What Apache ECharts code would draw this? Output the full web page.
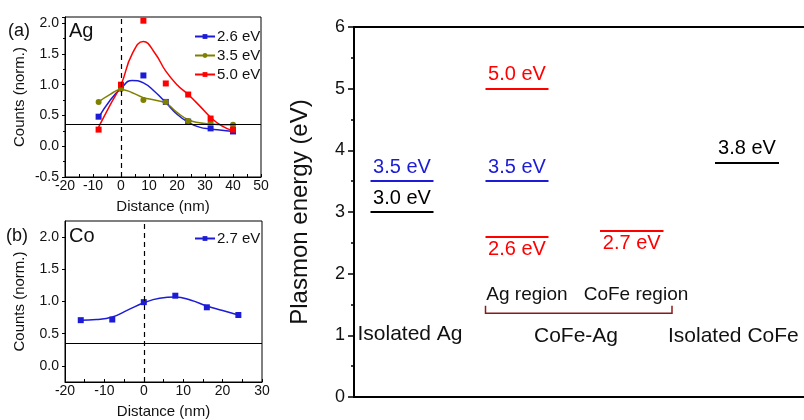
<!DOCTYPE html>
<html><head><meta charset="utf-8">
<script src="https://cdn.jsdelivr.net/npm/echarts@6/dist/echarts.min.js"></script>
<style>html,body{margin:0;padding:0;background:#fff}#c{width:804px;height:420px}</style>
</head><body><div id="c"></div>
<script>
// ---------- Data: panel (a) Ag ----------
const distA = [-8, 0, 8, 16, 24, 32, 40];
const ag26 = [0.48, 0.97, 1.15, 0.72, 0.40, 0.29, 0.24];
const ag35 = [0.72, 0.93, 0.75, 0.72, 0.41, 0.38, 0.35];
const ag50 = [0.27, 1.00, 2.04, 1.02, 0.84, 0.45, 0.27];
const fitDistA = [-8, -4, 0, 4, 8, 12, 16, 20, 24, 28, 32, 36, 40];
const fit26 = [0.47, 0.74, 0.94, 1.07, 1.03, 0.89, 0.71, 0.52, 0.39, 0.31, 0.28, 0.26, 0.24];
const fit35 = [0.72, 0.84, 0.92, 0.87, 0.79, 0.75, 0.70, 0.55, 0.43, 0.38, 0.36, 0.35, 0.35];
const fit50 = [0.31, 0.66, 1.00, 1.50, 1.70, 1.52, 1.22, 1.00, 0.84, 0.66, 0.47, 0.33, 0.25];
const baseA = 0.35;
// ---------- Data: panel (b) Co ----------
const distB = [-16, -8, 0, 8, 16, 24];
const co27 = [0.71, 0.72, 0.99, 1.09, 0.91, 0.79];
const fitDistB = [-16, -12, -8, -4, 0, 4, 8, 12, 16, 20, 24];
const fit27 = [0.71, 0.72, 0.76, 0.87, 0.98, 1.05, 1.07, 1.02, 0.93, 0.86, 0.79];
const baseB = 0.35;
const countTicksB = [0, 0.5, 1.0, 1.5, 2.0];
// ---------- Data: plasmon energy levels ----------
const levelLabels = ['3.0 eV', '3.5 eV', '5.0 eV', '3.5 eV', '2.6 eV', '2.7 eV', '3.8 eV'];
const levelEnergy = [3.0, 3.5, 5.0, 3.5, 2.6, 2.7, 3.8];
const levelGroup = [0, 0, 1, 1, 1, 2, 3];
const groupNames = ['Isolated Ag', 'Ag region', 'CoFe region', 'Isolated CoFe'];
const sampleNames = ['Isolated Ag', 'CoFe-Ag', 'Isolated CoFe'];
const energyTicks = [0, 1, 2, 3, 4, 5, 6];

// ---------- Layout / style (not data) ----------
const FONT = 'Liberation Sans, Arial, sans-serif';
const BLUE = '#1c1cd6', OLIVE = '#808000', RED = '#ff0000';
const levelColor = ['#000', BLUE, RED, BLUE, RED, RED, '#000'];
const levelLabelBelow = [false, false, false, false, true, true, false];
const groupSpan = [[0.33, 1.59], [2.63, 3.89], [4.92, 6.19], [7.22, 8.50]];
const groupLabelPos = [null, [3.46, 1.66], [5.64, 1.66], null];
const sampleLabelPos = [[1.12, 1.02, 'center'], [4.44, 0.99, 'center'], [6.28, 0.99, 'left']];
const bracket = { x0: 2.63, x1: 6.36, y: 1.36, h: 0.12 };

const pairs = (xs, ys) => xs.map((x, i) => [x, ys[i]]);

const chart = echarts.init(document.getElementById('c'), null, { renderer: 'canvas' });

function smallX(idx, min, max) {
  return {
    gridIndex: idx, type: 'value', min: min, max: max, interval: 10,
    name: 'Distance (nm)', nameLocation: 'middle', nameGap: 22,
    nameTextStyle: { fontFamily: FONT, fontSize: 15, color: '#111' },
    axisLine: { onZero: false, lineStyle: { color: '#000', width: 1 } },
    axisTick: { inside: true, length: 3, lineStyle: { color: '#000' } },
    minorTick: { show: true, splitNumber: 2, length: 3, lineStyle: { color: '#000' } },
    axisLabel: { fontFamily: FONT, fontSize: 14, color: '#111', margin: 2 },
    splitLine: { show: false }
  };
}
function smallY(idx, min, max) {
  return {
    gridIndex: idx, type: 'value', min: min, max: max, interval: 0.5,
    name: 'Counts (norm.)', nameLocation: 'middle', nameGap: 38,
    nameTextStyle: { fontFamily: FONT, fontSize: 15, color: '#111' },
    axisLine: { onZero: false, lineStyle: { color: '#000', width: 1 } },
    axisTick: { length: 3, lineStyle: { color: '#000' } },
    minorTick: { show: true, splitNumber: 2, length: 2, lineStyle: { color: '#000' } },
    axisLabel: { fontFamily: FONT, fontSize: 14, color: '#111', margin: 6,
      formatter: v => (Math.abs(v * 2 - Math.round(v * 2)) < 1e-6 ? v.toFixed(1) : '') },
    splitLine: { show: false }
  };
}

function fitSeries(name, xs, ys, color, symbol, gi) {
  return {
    name: name, type: 'line', xAxisIndex: gi, yAxisIndex: gi,
    data: pairs(xs, ys), smooth: 0.5, showSymbol: false, symbol: symbol, symbolSize: 6,
    lineStyle: { color: color, width: 1.5 }, itemStyle: { color: color }, z: 3, silent: true
  };
}
function pointSeries(xs, ys, color, symbol, gi) {
  return {
    type: 'scatter', xAxisIndex: gi, yAxisIndex: gi, data: pairs(xs, ys),
    symbol: symbol, symbolSize: 6, itemStyle: { color: color, opacity: 1 }, z: 4, silent: true
  };
}
function refLines(gi, base) {
  return {
    type: 'line', xAxisIndex: gi, yAxisIndex: gi, data: [], silent: true,
    markLine: {
      silent: true, symbol: 'none', animation: false, label: { show: false },
      data: [
        { yAxis: base, lineStyle: { color: '#000', width: 1.2, type: 'solid' } },
        { xAxis: 0, lineStyle: { color: '#000', width: 1.2, type: [5, 4] } }
      ]
    }
  };
}

// Right panel: energy level segments
const levelLines = levelEnergy.map((e, i) => ({
  coords: [[groupSpan[levelGroup[i]][0], e], [groupSpan[levelGroup[i]][1], e]],
  lineStyle: { color: levelColor[i], width: 2, opacity: 1 }
}));
const levelText = levelEnergy.map((e, i) => ({
  value: [(groupSpan[levelGroup[i]][0] + groupSpan[levelGroup[i]][1]) / 2, e],
  name: levelLabels[i],
  label: { color: levelColor[i], offset: [0, levelLabelBelow[i] ? 13 : -14] }
}));
const groupText = groupNames.map((n, i) => groupLabelPos[i] ? { value: groupLabelPos[i].slice(0, 2), name: n } : null).filter(Boolean);
const sampleText = sampleNames.map((n, i) => ({
  value: sampleLabelPos[i].slice(0, 2), name: n,
  label: { align: sampleLabelPos[i][2] }
}));

const yB = smallY(1, -0.25, 2.25);
yB.interval = 0.25;
yB.axisTick = { length: 3, lineStyle: { color: '#000' }, customValues: countTicksB };
yB.minorTick = { show: false };
yB.axisLabel = { fontFamily: FONT, fontSize: 14, color: '#111', margin: 6,
  customValues: countTicksB, formatter: v => v.toFixed(1) };

const textSeries = (data, size, color) => ({
  type: 'scatter', xAxisIndex: 2, yAxisIndex: 2, symbolSize: 0, silent: true, data: data,
  itemStyle: { opacity: 1 },
  label: { show: true, position: 'inside', formatter: p => p.name, fontFamily: FONT, fontSize: size, color: color, opacity: 1 }
});

const option = {
  animation: false,
  backgroundColor: '#fff',
  textStyle: { fontFamily: FONT },
  grid: [
    { left: 65, top: 17, width: 196, height: 160, show: true, borderColor: '#000', borderWidth: 1, backgroundColor: 'transparent', outerBoundsMode: 'none' },
    { left: 65, top: 221, width: 197, height: 161, show: true, borderColor: '#000', borderWidth: 1, backgroundColor: 'transparent', outerBoundsMode: 'none' },
    { left: 354, top: 27, width: 500, height: 370, show: true, borderColor: '#000', borderWidth: 2, backgroundColor: 'transparent', outerBoundsMode: 'none', containLabel: false }
  ],
  xAxis: [
    smallX(0, -20, 50),
    smallX(1, -20, 30),
    { gridIndex: 2, type: 'value', min: 0, max: 10, show: true,
      axisLine: { onZero: false, lineStyle: { color: '#000', width: 2 } },
      axisTick: { show: false }, axisLabel: { show: false }, splitLine: { show: false } }
  ],
  yAxis: [
    smallY(0, -0.5, 2.1),
    yB,
    { gridIndex: 2, type: 'value', min: energyTicks[0], max: energyTicks[energyTicks.length - 1], interval: 1,
      name: 'Plasmon energy (eV)', nameLocation: 'middle', nameGap: 42,
      nameTextStyle: { fontFamily: FONT, fontSize: 24, color: '#111' },
      axisLine: { onZero: false, lineStyle: { color: '#000', width: 2 } },
      axisTick: { length: 6, lineStyle: { color: '#000', width: 1.5 } },
      minorTick: { show: true, splitNumber: 2, length: 3, lineStyle: { color: '#000', width: 1.5 } },
      axisLabel: { fontFamily: FONT, fontSize: 18, color: '#111', margin: 9 },
      splitLine: { show: false } }
  ],
  legend: [
    { data: ['2.6 eV', '3.5 eV', '5.0 eV'], orient: 'vertical', left: 189, top: 24,
      itemWidth: 20, itemHeight: 6, itemGap: 4,
      textStyle: { fontFamily: FONT, fontSize: 15, color: '#111', padding: [0, 0, 0, -3] } },
    { data: ['2.7 eV'], orient: 'vertical', left: 189, top: 226,
      itemWidth: 20, itemHeight: 6, itemGap: 4,
      textStyle: { fontFamily: FONT, fontSize: 15, color: '#111', padding: [0, 0, 0, -3] } }
  ],
  graphic: [
    { type: 'text', left: 8, top: 22, style: { text: '(a)', fontFamily: FONT, fontSize: 18, fill: '#111' } },
    { type: 'text', left: 69, top: 21, style: { text: 'Ag', fontFamily: FONT, fontSize: 20, fill: '#111' } },
    { type: 'text', left: 6, top: 227, style: { text: '(b)', fontFamily: FONT, fontSize: 18, fill: '#111' } },
    { type: 'text', left: 69, top: 226, style: { text: 'Co', fontFamily: FONT, fontSize: 20, fill: '#111' } }
  ],
  series: [
    refLines(0, baseA),
    fitSeries('2.6 eV', fitDistA, fit26, BLUE, 'rect', 0),
    fitSeries('3.5 eV', fitDistA, fit35, OLIVE, 'circle', 0),
    fitSeries('5.0 eV', fitDistA, fit50, RED, 'rect', 0),
    pointSeries(distA, ag26, BLUE, 'rect', 0),
    pointSeries(distA, ag35, OLIVE, 'circle', 0),
    pointSeries(distA, ag50, RED, 'rect', 0),
    refLines(1, baseB),
    fitSeries('2.7 eV', fitDistB, fit27, BLUE, 'rect', 1),
    pointSeries(distB, co27, BLUE, 'rect', 1),
    { type: 'lines', coordinateSystem: 'cartesian2d', xAxisIndex: 2, yAxisIndex: 2, silent: true,
      data: levelLines, z: 3, lineStyle: { opacity: 1 } },
    { type: 'lines', coordinateSystem: 'cartesian2d', xAxisIndex: 2, yAxisIndex: 2, silent: true, polyline: true,
      data: [{ coords: [[bracket.x0, bracket.y + bracket.h], [bracket.x0, bracket.y], [bracket.x1, bracket.y], [bracket.x1, bracket.y + bracket.h]] }],
      lineStyle: { color: '#8b1a1a', width: 1.5, opacity: 1 } },
    textSeries(levelText, 20, '#111'),
    textSeries(groupText, 19, '#111'),
    textSeries(sampleText, 21, '#111')
  ]
};
chart.setOption(option);
</script>
</body></html>
